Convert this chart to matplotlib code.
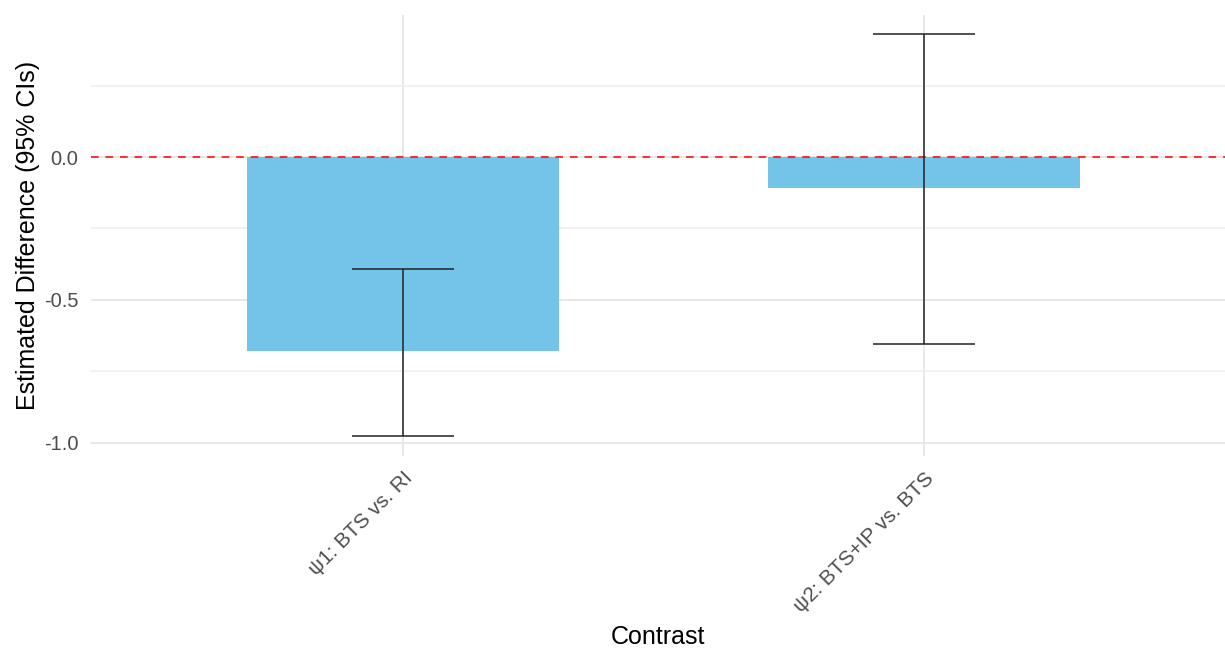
import numpy as np
import matplotlib.pyplot as plt

plt.rcParams['font.family'] = ['Liberation Sans', 'DejaVu Sans']

contrasts = ['ψ1: BTS vs. RI', 'ψ2: BTS+IP vs. BTS']
estimates = [-0.68, -0.11]
ci_lower = [-0.975, -0.655]
ci_upper = [-0.39, 0.43]

x = np.arange(len(contrasts))
est = np.array(estimates)
err = [est - np.array(ci_lower), np.array(ci_upper) - est]

fig = plt.figure(figsize=(12.25, 6.5), dpi=100)
ax = fig.add_axes([91 / 1225, (650 - 456) / 650, (1225 - 91) / 1225, 441 / 650])

ax.bar(x, est, width=0.6, color='#74C3E8', zorder=2)
ax.axhline(0, color='red', lw=1.1, linestyle=(0, (5, 4.5)), zorder=3)
ax.errorbar(x, est, yerr=err, fmt='none', ecolor='#222222', elinewidth=1.1,
            capsize=37, capthick=1.1, zorder=4)

ax.set_xlim(-0.599, 1.578)
ax.set_ylim(-1.046, 0.497)
ax.set_xticks(x)
ax.set_xticklabels(contrasts, rotation=45, ha='right', va='top',
                   rotation_mode='anchor')
ax.set_yticks([-1.0, -0.5, 0.0])
ax.set_yticklabels(['-1.0', '-0.5', '0.0'])
ax.set_yticks([-0.75, -0.25, 0.25], minor=True)

ax.tick_params(axis='both', which='both', length=0, labelsize=14.5,
               labelcolor='#4D4D4D')
ax.tick_params(axis='y', pad=9)
ax.tick_params(axis='x', pad=9, labelsize=15)

ax.grid(True, which='major', color='#E8E8E8', lw=1.4, zorder=0)
ax.grid(True, which='minor', axis='y', color='#EEEEEE', lw=1.1, zorder=0)
ax.set_axisbelow(True)
for s in ax.spines.values():
    s.set_visible(False)

ax.set_xlabel('Contrast', fontsize=18, color='black')
ax.xaxis.set_label_coords(0.5, -0.383)
ax.set_ylabel('Estimated Difference (95% CIs)', fontsize=18, color='black',
              labelpad=3)

fig.savefig('out.png', dpi=100)
